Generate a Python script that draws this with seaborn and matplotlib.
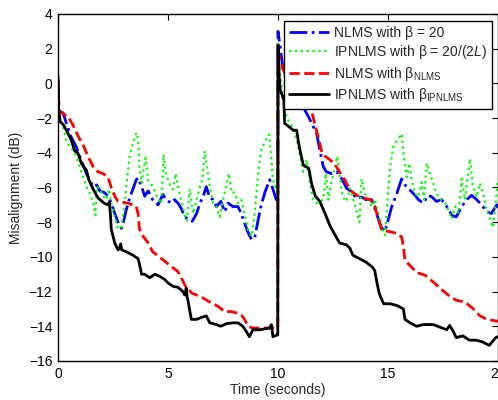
import numpy as np
import pandas as pd
import matplotlib
matplotlib.use("Agg")
import matplotlib.pyplot as plt
import seaborn as sns

# values (time in seconds, misalignment in dB)
t_blue = [0, 0.05, 0.23, 0.38, 0.6, 0.83, 1.06, 1.29, 1.6, 1.76,
          1.9, 2.12, 2.27, 2.42, 2.58, 2.73, 2.88, 2.98, 3.1, 3.26,
          3.4, 3.56, 3.64, 3.8, 3.94, 4.1, 4.3, 4.55, 4.77, 4.9,
          5.15, 5.3, 5.45, 5.6, 5.76, 5.9, 6.1, 6.3, 6.45, 6.6,
          6.74, 6.9, 7.05, 7.2, 7.4, 7.58, 7.73, 7.95, 8.18, 8.33,
          8.48, 8.64, 8.8, 8.94, 9.1, 9.24, 9.4, 9.62, 9.77, 9.92,
          9.99, 10.0, 10.1, 10.25, 10.5, 11.0, 11.2, 11.38, 11.76, 11.9,
          12.06, 12.2, 12.44, 12.67, 12.9, 13.12, 13.35, 13.58, 13.8, 14.0,
          14.26, 14.4, 14.56, 14.7, 14.86, 15.0, 15.17, 15.4, 15.62, 15.77,
          16.0, 16.23, 16.38, 16.6, 16.83, 17.0, 17.2, 17.44, 17.67, 17.9,
          18.1, 18.35, 18.58, 18.8, 19.03, 19.26, 19.48, 19.7, 19.94, 20.0]
v_blue = [0.2, -1.6, -1.7, -2.3, -3.1, -3.65, -4.45, -5.2, -5.95, -5.85,
          -6.2, -6.3, -6.5, -6.9, -7.5, -8.0, -8.35, -7.95, -7.3, -6.6,
          -6.1, -5.55, -5.45, -5.95, -6.5, -6.2, -6.7, -7.0, -6.4, -6.7,
          -6.9, -6.7, -6.9, -7.2, -7.7, -7.8, -7.95, -7.5, -6.9, -6.5,
          -5.95, -6.6, -6.7, -7.1, -6.8, -7.4, -6.9, -7.1, -7.1, -7.5,
          -8.05, -8.6, -9.0, -8.9, -7.85, -7.0, -6.3, -5.55, -6.1, -6.7,
          -6.7, 3.0, 2.1, 0.6, 0.0, -0.8, -1.5, -1.9, -2.9, -3.85,
          -4.8, -5.1, -5.2, -5.1, -5.5, -6.05, -6.25, -6.65, -6.55, -6.7,
          -6.7, -7.2, -7.8, -8.3, -8.55, -7.9, -7.1, -6.35, -5.5, -5.85,
          -6.15, -6.45, -6.7, -6.9, -6.45, -6.55, -6.8, -6.7, -7.1, -7.6,
          -7.7, -7.1, -6.7, -6.45, -6.7, -7.0, -7.4, -7.5, -7.0, -7.2]

t_green = [0, 0.05, 0.23, 0.38, 0.53, 0.68, 0.83, 0.98, 1.14, 1.29,
           1.44, 1.6, 1.7, 1.76, 1.9, 2.05, 2.2, 2.32, 2.42, 2.58,
           2.73, 2.88, 3.03, 3.14, 3.26, 3.4, 3.56, 3.64, 3.7, 3.8,
           3.86, 3.98, 4.1, 4.24, 4.4, 4.55, 4.7, 4.8, 4.9, 5.08,
           5.23, 5.35, 5.45, 5.6, 5.76, 5.86, 5.98, 6.14, 6.26, 6.42,
           6.56, 6.67, 6.77, 6.9, 7.05, 7.2, 7.35, 7.5, 7.77, 7.88,
           8.03, 8.18, 8.33, 8.48, 8.64, 8.8, 8.94, 9.1, 9.24, 9.4,
           9.6, 9.7, 9.77, 9.92, 9.97, 10.0, 10.1, 10.25, 10.4, 10.6,
           10.85, 11.0, 11.15, 11.3, 11.45, 11.6, 11.76, 11.9, 12.06, 12.18,
           12.29, 12.44, 12.6, 12.7, 12.79, 12.94, 13.12, 13.27, 13.42, 13.58,
           13.7, 13.8, 13.95, 14.1, 14.26, 14.4, 14.56, 14.7, 14.86, 14.98,
           15.1, 15.24, 15.47, 15.62, 15.7, 15.85, 15.97, 16.08, 16.23, 16.38,
           16.53, 16.64, 16.76, 16.9, 17.06, 17.2, 17.4, 17.6, 17.74, 17.9,
           18.05, 18.2, 18.35, 18.5, 18.6, 18.73, 18.85, 19.03, 19.18, 19.33,
           19.48, 19.64, 19.76, 19.86, 19.97, 20.0]
v_green = [0.5, -1.8, -2.5, -3.3, -3.65, -3.85, -4.2, -4.8, -5.4, -5.95,
           -6.3, -6.9, -7.6, -5.95, -6.1, -6.5, -6.7, -6.1, -6.9, -7.7,
           -8.4, -8.25, -6.9, -5.5, -4.2, -3.45, -2.85, -3.25, -4.8, -5.75,
           -5.2, -4.3, -5.6, -5.8, -6.2, -6.7, -6.9, -4.1, -5.2, -5.8,
           -6.1, -5.2, -5.95, -6.7, -7.6, -7.9, -6.1, -7.5, -6.9, -6.1,
           -5.55, -3.9, -4.8, -5.95, -6.9, -7.1, -7.7, -6.7, -5.2, -6.3,
           -6.3, -6.9, -6.7, -7.5, -8.45, -8.8, -7.5, -5.2, -3.85, -3.35,
           -2.95, -4.4, -5.55, -6.1, -4.4, 2.4, 0.5, -1.2, -2.0, -2.4,
           -3.25, -4.2, -5.1, -4.4, -5.75, -6.7, -6.9, -6.8, -6.7, -5.2,
           -6.7, -5.6, -4.8, -4.2, -5.2, -6.55, -6.8, -6.05, -6.7, -7.4,
           -8.0, -5.5, -6.35, -6.7, -7.1, -6.7, -7.5, -8.3, -8.75, -6.7,
           -4.8, -3.65, -3.2, -2.9, -4.05, -5.4, -4.6, -5.6, -6.35, -6.55,
           -5.7, -6.7, -4.6, -5.2, -5.75, -6.35, -6.7, -6.9, -7.3, -7.8,
           -7.1, -7.5, -5.5, -6.7, -5.6, -4.35, -5.9, -6.55, -5.75, -6.35,
           -7.3, -7.8, -8.3, -7.3, -5.9, -5.5]

t_red = [0, 0.05, 0.3, 0.45, 0.68, 0.9, 1.14, 1.36, 1.6, 1.82,
         2.05, 2.27, 2.42, 2.58, 2.73, 2.95, 3.18, 3.56, 3.64, 3.7,
         3.86, 4.1, 4.3, 4.6, 4.9, 5.2, 5.45, 5.6, 5.8, 6.1,
         6.5, 6.9, 7.27, 7.58, 7.88, 8.18, 8.33, 8.48, 8.64, 8.86,
         9.17, 9.62, 9.99, 10.0, 10.1, 10.3, 10.4, 10.7, 11.0, 11.3,
         11.53, 11.68, 11.83, 12.0, 12.14, 12.36, 12.6, 12.8, 13.05, 13.27,
         13.58, 13.88, 14.2, 14.4, 14.56, 14.7, 14.86, 15.1, 15.4, 15.62,
         15.7, 15.77, 16.0, 16.3, 16.68, 17.06, 17.36, 17.74, 18.1, 18.5,
         18.88, 19.18, 19.5, 19.94, 20.0]
v_red = [0.2, -1.6, -1.8, -1.9, -2.4, -3.0, -3.55, -4.2, -4.8, -5.1,
         -5.2, -5.4, -6.0, -6.5, -6.8, -6.85, -6.9, -7.1, -7.5, -8.4,
         -8.8, -9.2, -9.7, -10.0, -10.3, -10.6, -10.85, -11.2, -11.7, -12.1,
         -12.3, -12.6, -12.85, -13.15, -13.15, -13.25, -13.35, -13.6, -14.0, -14.1,
         -14.1, -14.1, -14.1, 2.0, 1.3, 0.6, 0.2, -0.3, -0.7, -1.2,
         -1.6, -2.4, -3.1, -4.0, -4.2, -4.4, -4.7, -5.1, -5.6, -6.15,
         -6.45, -6.6, -6.7, -7.1, -7.8, -8.4, -8.5, -8.55, -8.65, -8.85,
         -9.4, -10.2, -10.5, -10.9, -11.05, -11.45, -11.8, -12.2, -12.5, -12.6,
         -13.0, -13.4, -13.6, -13.7, -13.7]

t_black = [0, 0.03, 0.1, 0.25, 0.38, 0.6, 0.76, 0.9, 1.06, 1.29,
           1.4, 1.6, 1.82, 2.0, 2.1, 2.27, 2.33, 2.38, 2.42, 2.58,
           2.73, 2.8, 2.85, 2.9, 3.1, 3.4, 3.64, 3.7, 3.8, 3.94,
           4.17, 4.4, 4.6, 4.85, 5.0, 5.23, 5.45, 5.68, 5.76, 5.83,
           5.87, 5.92, 6.06, 6.3, 6.5, 6.74, 6.9, 7.2, 7.4, 7.65,
           7.95, 8.18, 8.4, 8.56, 8.7, 8.86, 9.17, 9.62, 9.7, 9.77,
           9.95, 9.99, 10.0, 10.05, 10.1, 10.2, 10.27, 10.3, 10.5, 10.7,
           10.85, 10.92, 11.0, 11.15, 11.4, 11.53, 11.7, 11.9, 12.14, 12.36,
           12.6, 12.8, 13.1, 13.27, 13.4, 13.7, 14.0, 14.3, 14.4, 14.5,
           14.6, 14.8, 15.1, 15.4, 15.7, 15.77, 16.0, 16.3, 16.6, 17.06,
           17.36, 17.67, 17.8, 17.97, 18.1, 18.4, 18.7, 19.0, 19.3, 19.6,
           19.9, 20.0]
v_black = [0.4, -1.5, -2.2, -2.4, -2.7, -3.25, -3.9, -4.0, -4.6, -5.0,
           -5.55, -6.1, -6.6, -6.8, -6.9, -7.0, -6.85, -7.5, -8.4, -9.2,
           -9.6, -9.5, -9.25, -9.6, -9.7, -9.9, -10.1, -10.4, -11.0, -11.0,
           -11.2, -11.0, -11.1, -11.3, -11.5, -11.7, -11.75, -12.0, -12.2, -11.8,
           -12.3, -12.6, -13.6, -13.6, -13.5, -13.4, -13.8, -13.9, -14.0, -13.85,
           -13.8, -13.8, -14.0, -14.3, -14.6, -14.2, -14.2, -14.1, -13.9, -14.6,
           -14.5, -14.5, 2.2, 0.5, -0.4, -0.7, -1.0, -2.3, -2.5, -2.7,
           -2.7, -3.3, -3.85, -4.7, -4.9, -5.8, -6.5, -6.8, -7.5, -8.2,
           -8.75, -9.2, -9.3, -9.5, -9.9, -10.1, -10.3, -10.6, -10.8, -11.5,
           -12.1, -12.7, -12.7, -12.8, -13.0, -13.6, -13.8, -14.0, -13.9, -13.9,
           -14.05, -14.2, -13.95, -14.3, -14.65, -14.55, -14.8, -14.8, -14.9, -15.1,
           -14.65, -14.6]

labels = [r"NLMS with β = 20",
          r"IPNLMS with β = 20/(2$\mathit{L}$)",
          r"NLMS with β$_{\mathrm{NLMS}}$",
          r"IPNLMS with β$_{\mathrm{IPNLMS}}$"]

sns.set_style("white")
plt.rcParams["font.family"] = ["Liberation Sans", "DejaVu Sans"]
plt.rcParams["mathtext.fontset"] = "custom"
plt.rcParams["mathtext.rm"] = "Liberation Sans"
plt.rcParams["mathtext.it"] = "Liberation Sans:italic"
plt.rcParams["font.size"] = 10

fig = plt.figure(figsize=(4.98, 4.0), dpi=100)
ax = fig.add_axes([58 / 498, 39 / 400, 440 / 498, 347 / 400])

series = [
    (t_blue, v_blue, "#0000ff", "-.", 2.0),
    (t_green, v_green, "#00ff00", ":", 1.6),
    (t_red, v_red, "#ff0000", "--", 2.0),
    (t_black, v_black, "#000000", "-", 2.0),
]
for (t, v, c, ls, lw), lab in zip(series, labels):
    sns.lineplot(x=t, y=v, ax=ax, color=c, linestyle=ls, linewidth=lw,
                 label=lab, sort=False, estimator=None)

ax.set_xlim(0, 20)
ax.set_ylim(-16, 4)
ax.set_xticks([0, 5, 10, 15, 20])
ax.set_yticks(np.arange(-16, 5, 2))
ax.set_xlabel("Time (seconds)", fontsize=10, labelpad=2)
ax.set_ylabel("Misalignment (dB)", fontsize=10, labelpad=4)
ax.tick_params(direction="in", top=True, right=True, length=4, width=0.8,
               labelsize=10, colors="black", pad=4)
for s in ax.spines.values():
    s.set_color("black")
    s.set_linewidth(1.0)

leg = ax.legend(loc="upper right", bbox_to_anchor=(0.986, 0.98),
                borderaxespad=0, frameon=True, fancybox=False,
                framealpha=1, edgecolor="black", fontsize=10,
                handlelength=2.9, handletextpad=0.35, labelspacing=0.25,
                borderpad=0.35)
leg.get_frame().set_linewidth(1.0)

fig.savefig("out.png", dpi=100)
